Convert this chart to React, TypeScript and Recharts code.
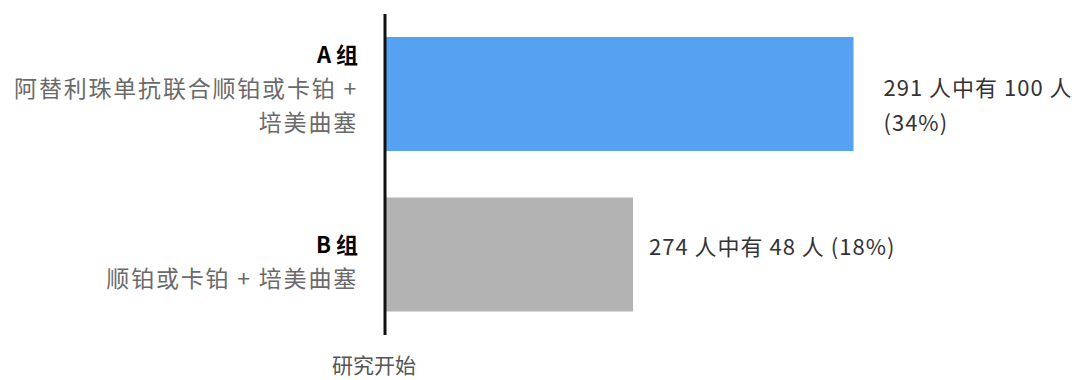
import { BarChart, Bar, XAxis, YAxis, Cell, LabelList } from "recharts";

const groups = ["A 组", "B 组"];
const groupDesc = [
  ["阿替利珠单抗联合顺铂或卡铂 +", "培美曲塞"],
  ["顺铂或卡铂 + 培美曲塞"],
];
const percents = [34, 18];
const resultText = [
  ["291 人中有 100 人", "(34%)"],
  ["274 人中有 48 人 (18%)"],
];
const barColors = ["#56a1f1", "#b3b3b3"];
const startLabel = "研究开始";

const data = groups.map((g, i) => ({
  group: g,
  pct: percents[i],
  idx: i,
}));

const FONT = "'Noto Sans CJK SC', 'Noto Sans', sans-serif";
const LINE = 34;
const leftShift = [-41, -12];
const rightShift = [-8, -10];
const rightGap = [30, 16];

function GroupTick(props: any) {
  const { y, payload } = props;
  const i = groups.indexOf(payload.value);
  const y0 = y + leftShift[i];
  const xr = 358;
  return (
    <g>
      <text
        x={xr}
        y={y0}
        textAnchor="end"
        dominantBaseline="central"
        fontFamily={FONT}
        fontSize={22}
        fontWeight={600}
        fill="#000"
      >
        {payload.value}
      </text>
      {groupDesc[i].map((line, k) => (
        <text
          key={k}
          x={xr}
          y={y0 + LINE * (k + 1)}
          textAnchor="end"
          dominantBaseline="central"
          fontFamily={FONT}
          fontSize={23}
          letterSpacing={1.8}
          fill="#6a6a6a"
        >
          {line}
        </text>
      ))}
    </g>
  );
}

function ResultLabel(props: any) {
  const { x, y, width, height, index } = props;
  const cy = y + height / 2 + rightShift[index];
  return (
    <g>
      {resultText[index].map((line, k) => (
        <text
          key={k}
          x={x + width + rightGap[index]}
          y={cy + k * 35}
          textAnchor="start"
          dominantBaseline="central"
          fontFamily={FONT}
          fontSize={22}
          letterSpacing={1}
          fill="#333"
        >
          {line}
        </text>
      ))}
    </g>
  );
}

function StartTick(props: any) {
  const { x } = props;
  return (
    <text
      x={x - 11}
      y={364}
      textAnchor="middle"
      dominantBaseline="central"
      fontFamily={FONT}
      fontSize={21}
      fill="#555"
    >
      {startLabel}
    </text>
  );
}

export default function App() {
  return (
    <div style={{ position: "fixed", left: 0, top: 0, background: "#fff" }}>
      <BarChart
        width={1082}
        height={380}
        data={data}
        layout="vertical"
        margin={{ top: 14, right: 8, bottom: 0, left: 0 }}
        barCategoryGap={0}
      >
        <XAxis
          type="number"
          domain={[0, 50]}
          ticks={[0]}
          axisLine={false}
          tickLine={false}
          height={45}
          tick={<StartTick />}
          interval={0}
        />
        <YAxis
          type="category"
          dataKey="group"
          width={385}
          axisLine={{ stroke: "#111", strokeWidth: 3 }}
          tickLine={false}
          tick={<GroupTick />}
          interval={0}
        />
        <Bar dataKey="pct" barSize={114} isAnimationActive={false}>
          {data.map((d) => (
            <Cell key={d.group} fill={barColors[d.idx]} />
          ))}
          <LabelList dataKey="pct" content={<ResultLabel />} />
        </Bar>
      </BarChart>
    </div>
  );
}
